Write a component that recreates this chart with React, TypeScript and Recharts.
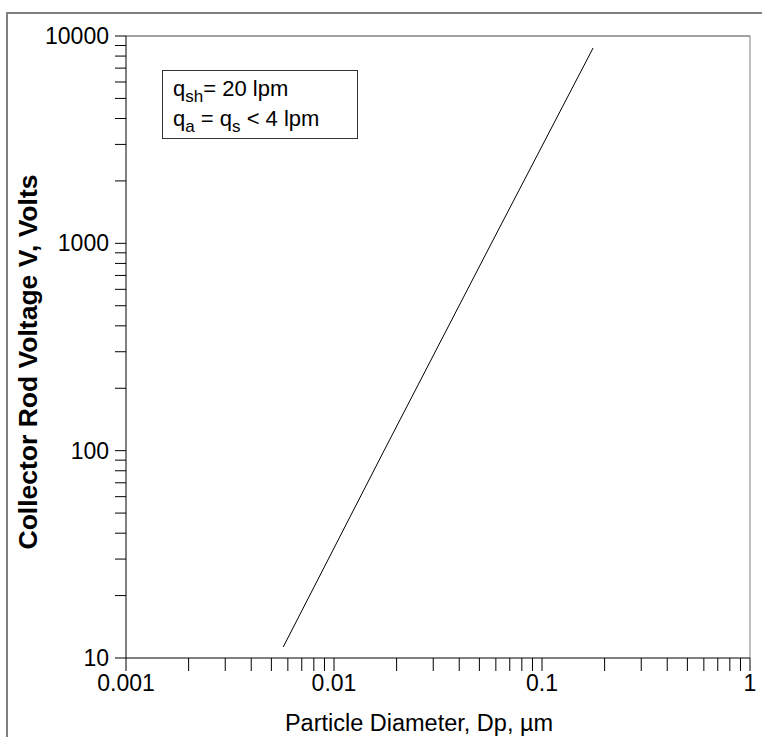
import React from 'react';
import { LineChart, Line, XAxis, YAxis, ReferenceLine } from 'recharts';

// values (log-log straight line)
const diameters = [0.0057, 0.0174, 0.0571, 0.176];
const voltages = [11.3, 100, 1000, 8750];

const xTicks = [
  0.001, 0.002, 0.003, 0.004, 0.005, 0.006, 0.007, 0.008, 0.009,
  0.01, 0.02, 0.03, 0.04, 0.05, 0.06, 0.07, 0.08, 0.09,
  0.1, 0.2, 0.3, 0.4, 0.5, 0.6, 0.7, 0.8, 0.9, 1,
];
const xLabels = [0.001, 0.01, 0.1, 1];

const yTicks = [
  10, 20, 30, 40, 50, 60, 70, 80, 90,
  100, 200, 300, 400, 500, 600, 700, 800, 900,
  1000, 2000, 3000, 4000, 5000, 6000, 7000, 8000, 9000, 10000,
];
const yLabels = [10, 100, 1000, 10000];

const data = diameters.map((dp, i) => ({ dp, v: voltages[i] }));

const FONT = '"Liberation Sans", Arial, sans-serif';

const subStyle = { fontSize: 17, verticalAlign: '-6px', lineHeight: 0 };

export default function App() {
  return (
    <div style={{ position: 'absolute', left: 0, top: 0, width: 762, height: 737, overflow: 'hidden', background: '#fff', fontFamily: FONT }}>
      <div
        style={{
          position: 'absolute', left: 6, top: 12, width: 900, height: 900,
          borderLeft: '2px solid #808080', borderTop: '2px solid #808080',
        }}
      />
      <div style={{ position: 'absolute', left: 0, top: 0 }}>
        <LineChart width={762} height={737} data={data} margin={{ top: 36, right: 12, left: 0, bottom: 0 }}>
          <XAxis
            dataKey="dp"
            type="number"
            scale="log"
            domain={[0.001, 1]}
            ticks={xTicks}
            interval={0}
            allowDataOverflow
            height={79}
            tickSize={13}
            tickMargin={4}
            axisLine={{ stroke: '#000' }}
            tickLine={{ stroke: '#000' }}
            tick={{ fill: '#000', fontSize: 23, fontFamily: FONT }}
            tickFormatter={(t: number) => (xLabels.includes(t) ? String(t) : '')}
            label={{
              content: () => (
                <text x={419} y={731} textAnchor="middle" fontSize={23.5} fontFamily={FONT} fill="#000">
                  Particle Diameter, Dp, µm
                </text>
              ),
            }}
          />
          <YAxis
            dataKey="v"
            type="number"
            scale="log"
            domain={[10, 10000]}
            ticks={yTicks}
            interval={0}
            allowDataOverflow
            width={126}
            tickSize={11}
            tickMargin={6}
            axisLine={{ stroke: '#000' }}
            tickLine={{ stroke: '#000' }}
            tick={{ fill: '#000', fontSize: 23, fontFamily: FONT }}
            tickFormatter={(t: number) => (yLabels.includes(t) ? String(t) : '')}
            label={{
              content: () => (
                <text
                  x={37}
                  y={362}
                  transform="rotate(-90 37 362)"
                  textAnchor="middle"
                  fontSize={26.5}
                  fontWeight="bold"
                  fontFamily={FONT}
                  fill="#000"
                >
                  Collector Rod Voltage V, Volts
                </text>
              ),
            }}
          />
          <ReferenceLine y={10000} stroke="#444" ifOverflow="extendDomain" />
          <ReferenceLine x={1} stroke="#808080" ifOverflow="extendDomain" />
          <Line
            type="linear"
            dataKey="v"
            stroke="#000"
            strokeWidth={1}
            dot={false}
            isAnimationActive={false}
          />
        </LineChart>
      </div>
      <div
        style={{
          position: 'absolute', left: 162, top: 70, width: 196, height: 69,
          border: '1px solid #333', background: '#fff', fontSize: 22, color: '#000',
          lineHeight: '30px', paddingLeft: 10, paddingTop: 3, boxSizing: 'border-box',
        }}
      >
        <div>q<sub style={subStyle}>sh</sub>= 20 lpm</div>
        <div>q<sub style={subStyle}>a</sub> = q<sub style={subStyle}>s</sub> &lt; 4 lpm</div>
      </div>
    </div>
  );
}
